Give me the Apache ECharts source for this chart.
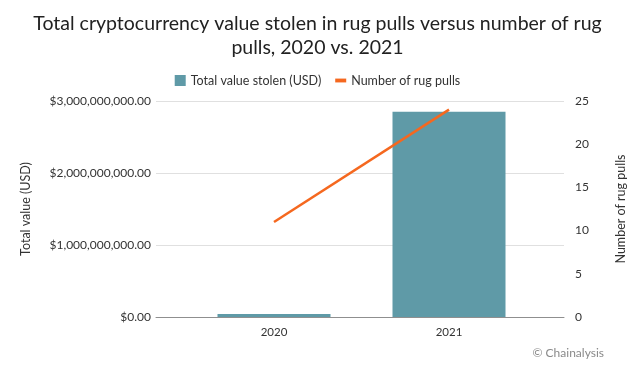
<!DOCTYPE html>
<html>
<head>
<meta charset="utf-8">
<script src="https://cdn.jsdelivr.net/npm/echarts@6/dist/echarts.min.js"></script>
<style>html,body{margin:0;padding:0;background:#fff}#c{width:635px;height:370px}</style>
</head>
<body>
<div id="c"></div>
<script>
const categories = ['2020', '2021'];
const valueStolen = [40000000, 2850000000];
const rugPulls = [11, 24];
const leftTicks = [0, 1000000000, 2000000000, 3000000000];
const rightTicks = [0, 5, 10, 15, 20, 25];

const FONT = 'Lato';
const chart = echarts.init(document.getElementById('c'));
const fmtUSD = v => '$' + v.toLocaleString('en-US', {minimumFractionDigits: 2, maximumFractionDigits: 2});

chart.setOption({
  animation: false,
  textStyle: {fontFamily: FONT},
  title: {
    text: 'Total cryptocurrency value stolen in rug pulls versus number of rug\npulls, 2020 vs. 2021',
    left: 'center', top: 7,
    textStyle: {fontFamily: FONT, fontSize: 19.5, fontWeight: 'normal', color: '#222', lineHeight: 24}
  },
  legend: {
    left: 'center', top: 69, itemWidth: 11, itemHeight: 11, itemGap: 14,
    textStyle: {fontFamily: FONT, fontSize: 12.5, color: '#333'},
    data: [
      {name: 'Total value stolen (USD)', icon: 'rect'},
      {name: 'Number of rug pulls', icon: 'path://M0,0h10v3.5h-10z'}
    ]
  },
  graphic: [{
    type: 'text', right: 31, top: 347,
    style: {text: '© Chainalysis', fontFamily: FONT, fontSize: 12, fill: '#8a8a8a'}
  }],
  grid: [
    {left: 156, right: 70, top: 101, bottom: 53},
    {left: 186.5, right: 98.5, top: 101, bottom: 53}
  ],
  xAxis: [
    {type: 'category', gridIndex: 0, data: categories, axisLabel: {show: false}, axisTick: {show: false},
     axisLine: {lineStyle: {color: '#8f8f8f', width: 1}}},
    {type: 'category', gridIndex: 1, data: categories, axisTick: {show: false}, axisLine: {show: false},
     axisLabel: {fontFamily: FONT, fontSize: 11.5, color: '#333', margin: 9}}
  ],
  yAxis: [
    {type: 'value', gridIndex: 0, min: 0, max: 3000000000, interval: 1000000000,
     name: 'Total value (USD)', nameLocation: 'middle', nameGap: 124, nameRotate: 90,
     nameTextStyle: {fontFamily: FONT, fontSize: 12.5, color: '#333'},
     axisLabel: {formatter: fmtUSD, fontFamily: FONT, fontSize: 12, color: '#333', margin: 5},
     splitLine: {lineStyle: {color: '#e0e0e0'}}, axisLine: {show: false}, axisTick: {show: false}},
    {type: 'value', gridIndex: 0, position: 'right', min: 0, max: 25, interval: 5,
     name: 'Number of rug pulls', nameLocation: 'middle', nameGap: 50, nameRotate: 90,
     nameTextStyle: {fontFamily: FONT, fontSize: 12.5, color: '#333'},
     axisLabel: {fontFamily: FONT, fontSize: 12, color: '#333', margin: 11},
     splitLine: {show: false}, axisLine: {show: false}, axisTick: {show: false}},
    {type: 'value', gridIndex: 1, min: 0, max: 3000000000, show: false},
    {type: 'value', gridIndex: 1, min: 0, max: 25, show: false}
  ],
  series: [
    {name: 'Total value stolen (USD)', type: 'bar', xAxisIndex: 1, yAxisIndex: 2,
     data: valueStolen, barWidth: 113, itemStyle: {color: '#5f9aa7'}},
    {name: 'Number of rug pulls', type: 'line', xAxisIndex: 1, yAxisIndex: 3,
     data: rugPulls, symbol: 'none', lineStyle: {color: '#f5681f', width: 2.5}, itemStyle: {color: '#f5681f'}}
  ]
});
</script>
</body>
</html>
